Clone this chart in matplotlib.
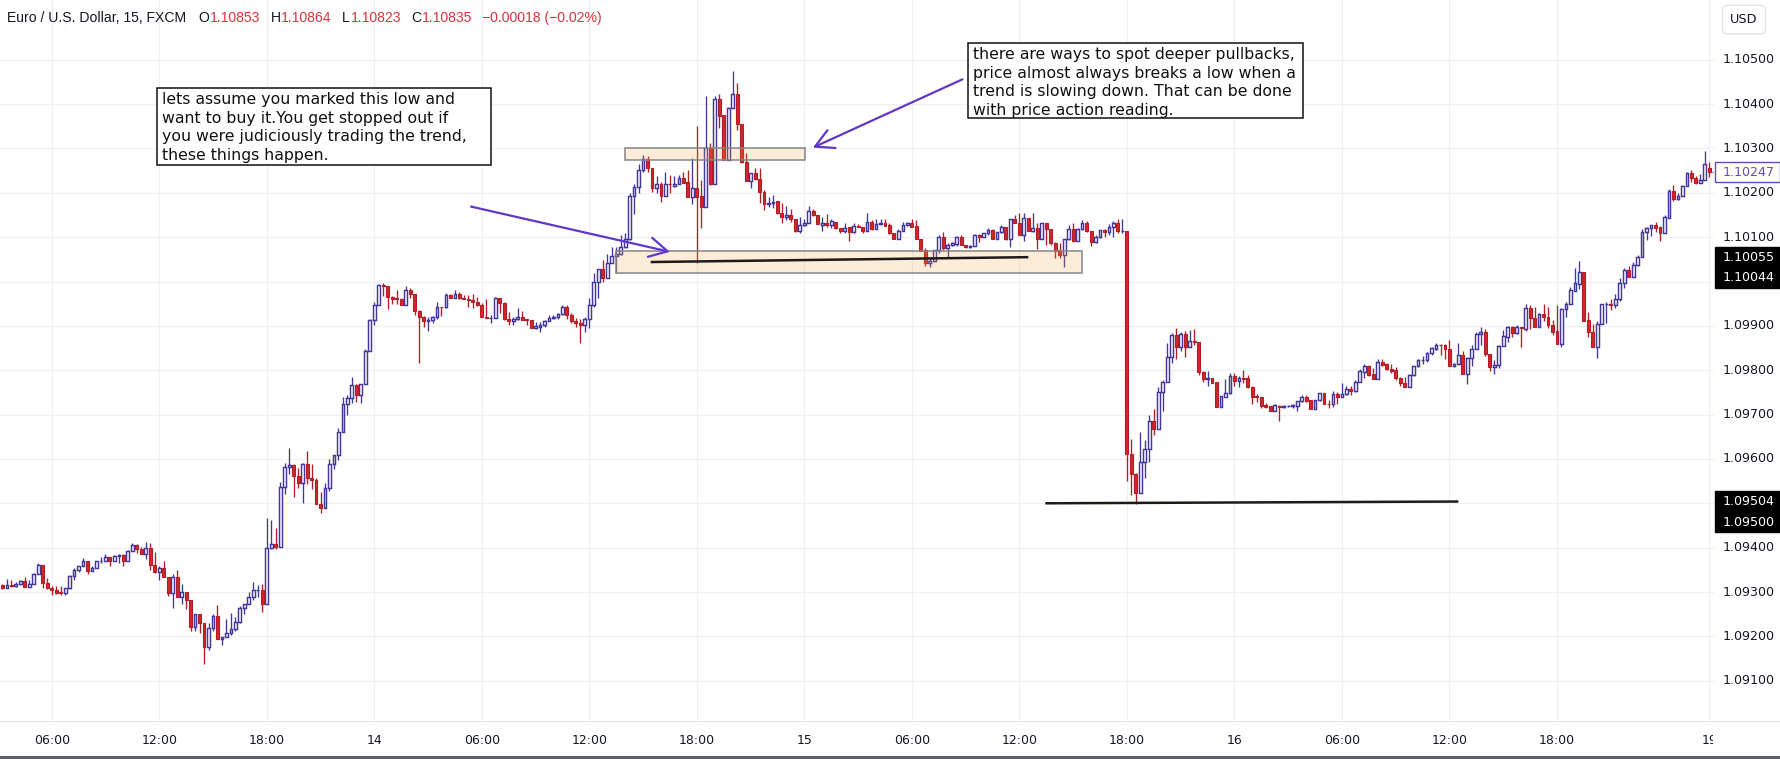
import matplotlib
matplotlib.use("Agg")
import matplotlib.pyplot as plt
from matplotlib.patches import Rectangle
import numpy as np

W, H = 1780, 759

# prices are stored in points (0.00001) above BASE
BASE = 1.09
PT = 0.00001
first_idx = -11          # bar index of the first candle; bar 0 = 06:00 on the 13th

opens = [
    315, 310, 315, 313, 318, 324, 312, 319, 340, 361, 321,
    310, 304, 299, 297, 308, 336, 350, 358, 369, 348, 354, 369, 371, 378, 369, 381, 383, 371, 393, 407,
    398, 386, 399, 362, 344, 354, 333, 298, 333, 288, 299, 282, 220, 250, 231, 177, 218, 246, 195, 198,
    207, 216, 232, 264, 272, 289, 304, 305, 274, 399, 408, 402, 537, 581, 586, 562, 546, 589, 558, 553,
    498, 490, 535, 588, 610, 661, 723, 737, 766, 745, 769, 843, 913, 946, 993, 991, 966, 963, 961, 948,
    982, 973, 934, 919, 910, 913, 920, 943, 942, 970, 964, 973, 964, 960, 959, 955, 948, 921, 917, 918,
    962, 952, 916, 912, 915, 920, 915, 913, 896, 898, 901, 910, 917, 920, 926, 943, 925, 910, 906, 901,
    915, 946, 998, 1028, 1009, 1041, 1057, 1061, 1079, 1095, 1193, 1214, 1251, 1276, 1255, 1210, 1219, 1194, 1220, 1215,
    1219, 1233, 1224, 1191, 1211, 1193, 1167, 1300, 1220, 1411, 1376, 1274, 1392, 1423, 1355, 1269, 1227, 1244, 1231, 1202,
    1175, 1176, 1182, 1154, 1146, 1150, 1140, 1115, 1127, 1133, 1159, 1150, 1127, 1133, 1127, 1135, 1120, 1115, 1122, 1112,
    1125, 1122, 1115, 1135, 1118, 1129, 1133, 1127, 1109, 1097, 1115, 1127, 1131, 1125, 1097, 1071, 1041, 1046, 1071, 1100,
    1075, 1082, 1084, 1101, 1082, 1077, 1080, 1105, 1100, 1109, 1116, 1097, 1111, 1124, 1095, 1140, 1131, 1104, 1143, 1115,
    1120, 1095, 1133, 1118, 1088, 1071, 1060, 1097, 1118, 1092, 1118, 1133, 1115, 1090, 1100, 1116, 1111, 1122, 1131, 1113,
    1113, 611, 566, 524, 592, 622, 686, 667, 750, 774, 829, 879, 853, 881, 853, 865, 863, 796, 780, 782,
    773, 718, 739, 748, 787, 776, 782, 782, 762, 742, 739, 722, 719, 707, 720, 718, 719, 719, 720, 731,
    740, 733, 712, 733, 748, 724, 724, 747, 739, 747, 758, 754, 774, 797, 810, 791, 781, 818, 813, 803,
    800, 782, 771, 763, 789, 809, 822, 822, 838, 849, 858, 857, 849, 810, 815, 834, 791, 827, 849, 881,
    886, 837, 807, 811, 855, 876, 897, 883, 897, 892, 940, 917, 898, 927, 921, 902, 888, 859, 937, 949,
    979, 994, 1021, 913, 886, 852, 904, 949, 949, 948, 960, 996, 1026, 1011, 1037, 1055, 1111, 1120, 1127, 1122,
    1110, 1144, 1205, 1186, 1194, 1216, 1244, 1234, 1223, 1228, 1255,
]
highs = [
    318, 329, 327, 322, 328, 334, 327, 343, 365, 361, 332,
    313, 314, 313, 308, 338, 354, 359, 377, 369, 359, 370, 380, 385, 380, 383, 386, 386, 395, 410, 408,
    402, 412, 411, 390, 359, 370, 333, 341, 350, 319, 299, 283, 250, 250, 231, 231, 250, 271, 198, 238,
    252, 244, 268, 272, 299, 322, 315, 319, 467, 462, 445, 547, 591, 624, 588, 579, 591, 618, 589, 556,
    525, 545, 599, 610, 669, 740, 744, 785, 769, 770, 849, 916, 955, 994, 996, 991, 967, 981, 964, 989,
    985, 973, 935, 922, 919, 922, 955, 943, 975, 973, 982, 976, 970, 969, 972, 966, 952, 961, 925, 965,
    964, 955, 931, 919, 940, 934, 916, 913, 909, 909, 913, 925, 924, 930, 947, 946, 928, 917, 915, 921,
    962, 1019, 1028, 1049, 1062, 1079, 1077, 1105, 1109, 1200, 1221, 1264, 1285, 1282, 1255, 1237, 1225, 1247, 1240, 1238,
    1240, 1248, 1252, 1278, 1351, 1229, 1418, 1312, 1418, 1424, 1376, 1394, 1475, 1447, 1355, 1289, 1244, 1255, 1255, 1206,
    1191, 1195, 1182, 1176, 1171, 1164, 1140, 1146, 1140, 1170, 1163, 1150, 1146, 1152, 1140, 1135, 1120, 1131, 1122, 1131,
    1130, 1122, 1154, 1139, 1142, 1142, 1142, 1131, 1109, 1118, 1135, 1135, 1142, 1139, 1097, 1075, 1056, 1072, 1105, 1111,
    1086, 1090, 1103, 1105, 1082, 1082, 1107, 1107, 1110, 1120, 1118, 1112, 1127, 1124, 1142, 1150, 1154, 1154, 1143, 1154,
    1133, 1133, 1133, 1118, 1090, 1086, 1097, 1127, 1131, 1120, 1139, 1137, 1115, 1105, 1117, 1118, 1130, 1137, 1141, 1141,
    1113, 646, 569, 660, 643, 699, 712, 763, 778, 861, 885, 895, 887, 888, 891, 893, 863, 799, 798, 782,
    773, 742, 780, 793, 793, 786, 801, 789, 765, 746, 740, 727, 719, 723, 721, 722, 722, 724, 731, 744,
    744, 733, 733, 749, 749, 733, 754, 752, 771, 765, 765, 778, 802, 813, 812, 804, 825, 825, 816, 813,
    807, 785, 784, 791, 810, 825, 832, 842, 853, 862, 859, 859, 868, 817, 862, 844, 829, 858, 886, 897,
    892, 837, 823, 856, 891, 900, 900, 902, 897, 949, 947, 943, 930, 949, 943, 913, 947, 940, 954, 988,
    1031, 1046, 1021, 931, 904, 910, 949, 955, 960, 973, 1007, 1031, 1035, 1045, 1060, 1118, 1122, 1127, 1134, 1125,
    1149, 1208, 1218, 1199, 1218, 1246, 1251, 1237, 1243, 1294, 1269,
]
lows = [
    307, 308, 311, 311, 315, 312, 312, 318, 340, 310, 307,
    294, 295, 294, 294, 306, 327, 346, 358, 341, 348, 354, 366, 369, 359, 369, 366, 359, 371, 393, 389,
    386, 375, 349, 342, 328, 333, 292, 265, 288, 274, 261, 211, 211, 208, 138, 170, 213, 195, 180, 198,
    204, 213, 231, 250, 272, 283, 289, 256, 274, 396, 396, 402, 522, 567, 515, 535, 501, 543, 533, 498,
    479, 490, 528, 577, 598, 661, 698, 727, 729, 727, 768, 843, 903, 946, 968, 939, 949, 950, 946, 948,
    963, 925, 817, 898, 889, 907, 915, 922, 940, 964, 964, 961, 960, 943, 940, 945, 921, 917, 906, 917,
    928, 914, 902, 901, 913, 914, 902, 896, 894, 887, 897, 910, 915, 916, 925, 915, 906, 898, 862, 887,
    895, 942, 962, 1000, 1009, 1041, 1019, 1060, 1075, 1094, 1152, 1200, 1248, 1248, 1203, 1199, 1180, 1194, 1199, 1214,
    1219, 1223, 1190, 1175, 1041, 1120, 1167, 1218, 1220, 1346, 1274, 1274, 1392, 1342, 1267, 1227, 1212, 1229, 1178, 1161,
    1169, 1165, 1152, 1133, 1139, 1135, 1112, 1109, 1125, 1131, 1148, 1129, 1115, 1124, 1120, 1119, 1109, 1109, 1092, 1109,
    1122, 1109, 1115, 1116, 1118, 1127, 1125, 1107, 1097, 1097, 1115, 1125, 1124, 1095, 1070, 1034, 1032, 1045, 1064, 1071,
    1056, 1080, 1080, 1082, 1075, 1075, 1080, 1090, 1100, 1105, 1096, 1096, 1109, 1094, 1079, 1131, 1104, 1092, 1115, 1112,
    1073, 1095, 1082, 1082, 1052, 1052, 1032, 1094, 1090, 1092, 1116, 1112, 1080, 1086, 1098, 1100, 1105, 1101, 1109, 1110,
    551, 519, 498, 524, 556, 594, 653, 667, 707, 774, 817, 826, 844, 831, 853, 856, 790, 774, 765, 771,
    718, 718, 739, 746, 765, 763, 771, 759, 724, 729, 716, 716, 707, 707, 686, 716, 717, 716, 709, 729,
    729, 712, 712, 731, 724, 714, 718, 724, 739, 744, 744, 752, 774, 783, 787, 781, 781, 810, 801, 793,
    777, 765, 763, 763, 786, 808, 814, 818, 834, 846, 834, 825, 810, 808, 814, 791, 768, 810, 849, 857,
    832, 798, 792, 804, 855, 864, 874, 881, 853, 889, 892, 898, 898, 910, 896, 879, 859, 853, 919, 949,
    979, 984, 912, 874, 852, 827, 904, 906, 936, 940, 957, 985, 1011, 1011, 1036, 1055, 1094, 1103, 1112, 1091,
    1110, 1144, 1182, 1184, 1194, 1216, 1225, 1221, 1223, 1228, 1235,
]
closes = [
    310, 315, 313, 318, 325, 312, 319, 340, 361, 321, 310,
    304, 298, 297, 308, 336, 350, 358, 369, 348, 354, 369, 371, 378, 369, 381, 383, 371, 393, 407, 398,
    386, 399, 362, 344, 354, 333, 298, 333, 288, 299, 282, 220, 250, 231, 177, 218, 246, 195, 198, 207,
    216, 232, 264, 272, 289, 304, 305, 274, 399, 408, 402, 537, 581, 586, 562, 546, 589, 558, 553, 498,
    490, 535, 588, 610, 661, 723, 737, 766, 745, 769, 843, 913, 946, 992, 991, 966, 961, 961, 948, 982,
    973, 934, 919, 910, 913, 920, 942, 942, 970, 964, 973, 964, 960, 959, 955, 948, 921, 917, 918, 962,
    952, 916, 912, 915, 920, 914, 914, 896, 900, 901, 910, 917, 920, 926, 943, 925, 910, 906, 901, 915,
    946, 998, 1028, 1009, 1041, 1058, 1061, 1079, 1095, 1193, 1214, 1251, 1276, 1255, 1210, 1219, 1194, 1219, 1219, 1219,
    1233, 1223, 1191, 1211, 1191, 1167, 1300, 1220, 1411, 1374, 1274, 1392, 1423, 1355, 1269, 1227, 1244, 1231, 1201, 1174,
    1177, 1180, 1154, 1146, 1150, 1140, 1115, 1127, 1133, 1159, 1149, 1129, 1133, 1127, 1136, 1120, 1115, 1121, 1112, 1125,
    1124, 1115, 1135, 1118, 1129, 1133, 1126, 1109, 1097, 1115, 1127, 1131, 1124, 1097, 1070, 1041, 1047, 1071, 1100, 1075,
    1082, 1086, 1101, 1082, 1077, 1081, 1105, 1100, 1109, 1116, 1097, 1111, 1124, 1095, 1140, 1131, 1104, 1143, 1115, 1120,
    1095, 1133, 1118, 1086, 1070, 1060, 1097, 1118, 1092, 1118, 1133, 1115, 1090, 1100, 1116, 1111, 1122, 1131, 1113, 1114,
    611, 566, 524, 592, 622, 686, 667, 750, 774, 829, 879, 853, 881, 853, 865, 864, 795, 780, 782, 772,
    718, 742, 748, 787, 776, 782, 780, 762, 740, 740, 720, 718, 707, 722, 718, 720, 720, 721, 731, 740,
    731, 712, 733, 748, 724, 723, 747, 739, 747, 758, 754, 774, 799, 810, 789, 781, 818, 812, 802, 798,
    782, 771, 763, 789, 809, 822, 823, 840, 850, 857, 856, 848, 810, 815, 834, 791, 827, 849, 882, 886,
    837, 807, 811, 855, 877, 897, 883, 897, 895, 940, 917, 898, 927, 921, 901, 887, 859, 938, 949, 981,
    996, 1021, 912, 886, 852, 904, 949, 950, 948, 960, 996, 1026, 1011, 1037, 1056, 1111, 1120, 1127, 1121, 1110,
    1145, 1205, 1186, 1194, 1216, 1244, 1234, 1223, 1228, 1264, 1247,
]

time_ticks = [0, 24, 48, 72, 96, 120, 144, 168, 192, 216, 240, 264, 288, 312, 336, 370]
time_labels = ["06:00", "12:00", "18:00", "14", "06:00", "12:00", "18:00", "15",
               "06:00", "12:00", "18:00", "16", "06:00", "12:00", "18:00", "19"]
grid_prices = [1.091, 1.092, 1.093, 1.094, 1.095, 1.096, 1.097, 1.098,
               1.099, 1.100, 1.101, 1.102, 1.103, 1.104, 1.105]
# 1.10000 and 1.09500 sit under the black markers, so they are not labelled
label_prices = [1.105, 1.104, 1.103, 1.102, 1.101, 1.099, 1.098, 1.097,
                1.096, 1.094, 1.093, 1.092, 1.091]
last_price = 1.10247

# drawings: (bar, price) pairs
box_top = ((128.0, 1.10274), (168.1, 1.10301))
box_low = ((126.0, 1.10019), (230.0, 1.10068))
low_line = ((133.7, 1.10044), (218.0, 1.10055))
bottom_line = ((221.8, 1.09500), (314.0, 1.09504))
arrow_left = ((93.6, 1.10169), (138.0, 1.10067))
arrow_right = ((203.3, 1.10456), (169.9, 1.10302))

note_left = ("lets assume you marked this low and\n"
             "want to buy it.You get stopped out if\n"
             "you were judiciously trading the trend,\n"
             "these things happen.")
note_right = ("there are ways to spot deeper pullbacks,\n"
              "price almost always breaks a low when a\n"
              "trend is slowing down. That can be done\n"
              "with price action reading.")

INK = "#131722"
UP = "#42379a"
DN = "#d3262f"
DN_EDGE = "#b31d25"
GRID = "#eef0f3"
PURPLE = "#6236c9"

# pixel layout of the chart pane
PANE_R, PANE_B = 1714, 721
PX_PER_PRICE = 44350.0
Y_1091 = 680.7
ymax = 1.091 + Y_1091 / PX_PER_PRICE
ymin = 1.091 - (PANE_B - Y_1091) / PX_PER_PRICE
X0, BAR_W = 51.7, 4.48


def fx(x):
    return x / W


def fy(y):
    return 1 - y / H


def price_px(p):
    return Y_1091 - (p - 1.091) * PX_PER_PRICE


fig = plt.figure(figsize=(W / 100, H / 100), dpi=100)
fig.patch.set_facecolor("white")
ax = fig.add_axes([0, fy(PANE_B), fx(PANE_R), PANE_B / H])
ax.set_xlim(-X0 / BAR_W, (PANE_R - X0) / BAR_W)
ax.set_ylim(ymin, ymax)
ax.axis("off")

for p in grid_prices:
    ax.axhline(p, color=GRID, lw=0.9, zorder=0)
for t in time_ticks:
    ax.axvline(t, color=GRID, lw=0.9, zorder=0)

# candles
idx = np.arange(first_idx, first_idx + len(opens))
o = BASE + np.array(opens) * PT
h = BASE + np.array(highs) * PT
l = BASE + np.array(lows) * PT
c = BASE + np.array(closes) * PT
up = c >= o
bottom = np.minimum(o, c)
height = np.maximum(np.abs(c - o), 1.5 * PT)

ax.vlines(idx[up], l[up], h[up], color=UP, lw=0.95, zorder=2)
ax.vlines(idx[~up], l[~up], h[~up], color=DN_EDGE, lw=0.95, zorder=2)
ax.bar(idx[up], height[up], bottom=bottom[up], width=0.62,
       facecolor="white", edgecolor=UP, linewidth=1.05, zorder=3)
ax.bar(idx[~up], height[~up], bottom=bottom[~up], width=0.66,
       facecolor=DN, edgecolor=DN_EDGE, linewidth=0.8, zorder=3)

# drawings
for (x1, y1), (x2, y2) in (box_top, box_low):
    ax.add_patch(Rectangle((x1, y1), x2 - x1, y2 - y1, facecolor="#f7a23c",
                           alpha=0.2, edgecolor="none", zorder=4))
    ax.add_patch(Rectangle((x1, y1), x2 - x1, y2 - y1, facecolor="none",
                           edgecolor="#858585", lw=1.1, zorder=4))
for (x1, y1), (x2, y2) in (low_line, bottom_line):
    ax.plot([x1, x2], [y1, y2], color="#1e1a16", lw=1.8, zorder=5,
            solid_capstyle="butt")
for start, tip in (arrow_left, arrow_right):
    ax.annotate("", xy=tip, xytext=start,
                arrowprops=dict(arrowstyle="->,head_length=0.65,head_width=0.35",
                                color=PURPLE, lw=1.6, mutation_scale=20,
                                shrinkA=0, shrinkB=0), zorder=5)

# last price dotted line
ax.plot([idx[-1] + 0.5, ax.get_xlim()[1]], [last_price, last_price],
        color=UP, lw=0.8, ls=(0, (1, 2)), zorder=2)

# notes
for (x0, y0, x1, y1), txt in (((157, 88, 491, 165), note_left),
                              ((968, 43, 1303, 118), note_right)):
    fig.add_artist(Rectangle((fx(x0), fy(y1)), (x1 - x0) / W, (y1 - y0) / H,
                             transform=fig.transFigure, facecolor="white",
                             edgecolor="#111111", lw=1.1, zorder=6))
    fig.text(fx(x0 + 5), fy(y0 + 4), txt, ha="left", va="top", fontsize=11.3,
             family="DejaVu Sans", color="#111111", linespacing=1.3, zorder=7)

# price scale
for p in label_prices:
    fig.text(fx(1723), fy(price_px(p)), f"{p:.5f}", ha="left", va="center",
             fontsize=9.1, color=INK)


def marker(y, text, face, edge, color):
    fig.add_artist(Rectangle((fx(1715), fy(y + 10.3)), 65 / W, 20.6 / H,
                             transform=fig.transFigure, facecolor=face,
                             edgecolor=edge, lw=1.0, zorder=6))
    fig.text(fx(1723), fy(y), text, ha="left", va="center", fontsize=9.1,
             color=color, zorder=7)


marker(price_px(last_price), f"{last_price:.5f}", "white", "#5b4fb5", "#5b4fb5")
for p_a, p_b in ((low_line[1][1], low_line[0][1]),
                 (bottom_line[1][1], bottom_line[0][1])):
    ya = price_px(p_a)
    marker(ya, f"{p_a:.5f}", "black", "black", "white")
    marker(ya + 20.6, f"{p_b:.5f}", "black", "black", "white")

fig.text(fx(1744), fy(19.5), "USD", ha="center", va="center", fontsize=9.3,
         color=INK, bbox=dict(boxstyle="round,pad=0.6,rounding_size=0.4",
                              facecolor="white", edgecolor="#e0e3eb", lw=1.0))

# time scale
fig.add_artist(Rectangle((0, fy(PANE_B + 0.5)), 1, 0.8 / H, transform=fig.transFigure,
                         facecolor="#e0e3eb", edgecolor="none", zorder=2))
for t, lab in zip(time_ticks, time_labels):
    fig.text(fx(X0 + BAR_W * t), fy(740), lab, ha="center", va="center",
             fontsize=9.0, color=INK, zorder=3)
fig.add_artist(Rectangle((fx(PANE_R - 1), fy(756)), 1 - fx(PANE_R - 1), 34 / H,
                         transform=fig.transFigure, facecolor="white",
                         edgecolor="none", zorder=5))
fig.add_artist(Rectangle((0, 0), 1, 3 / H, transform=fig.transFigure,
                         facecolor="#5d606b", edgecolor="none", zorder=5))

# header
r = fig.canvas.get_renderer()
RED = "#d8343c"
pieces = [("Euro / U.S. Dollar, 15, FXCM", INK, 12), ("O", INK, 1),
          ("1.10853", RED, 10), ("H", INK, 1), ("1.10864", RED, 10),
          ("L", INK, 1), ("1.10823", RED, 10), ("C", INK, 1),
          ("1.10835", RED, 9), ("\u22120.00018 (\u22120.02%)", RED, 0)]
x = 7
for s, col, gap in pieces:
    t = fig.text(fx(x), fy(18), s, ha="left", va="center", fontsize=10.1,
                 color=col, family="Liberation Sans", zorder=7)
    x = t.get_window_extent(renderer=r).x1 + gap

fig.savefig("out.png", dpi=100, facecolor="white")
